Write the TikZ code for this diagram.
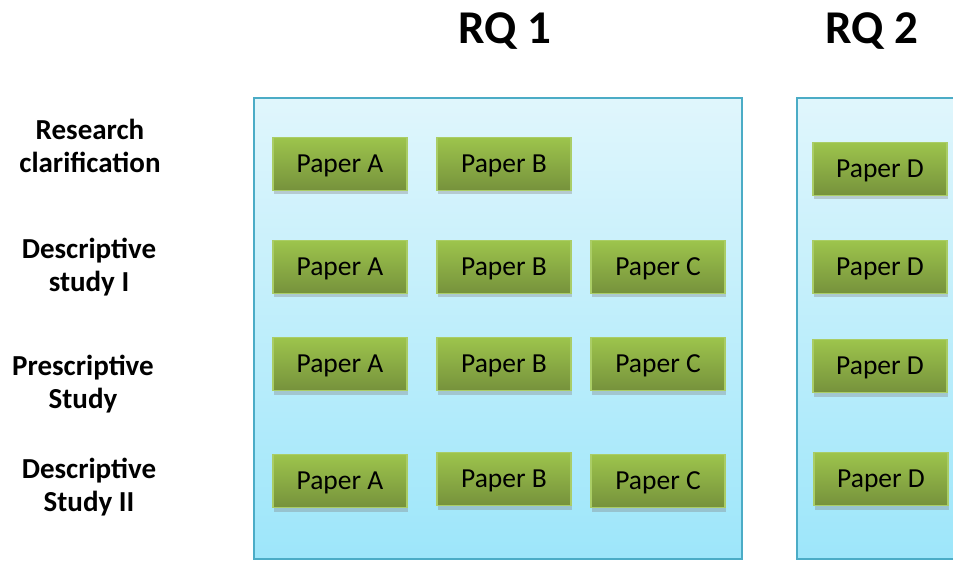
\documentclass[tikz,border=0pt]{standalone}
\usepackage{fontspec}
\setmainfont{Carlito}
\usetikzlibrary{shadows}
\definecolor{rqedge}{HTML}{4BACC6}
\definecolor{rqtop}{HTML}{E0F6FC}
\definecolor{rqbottom}{HTML}{9DE6FA}
\definecolor{papertop}{HTML}{9DC44C}
\definecolor{paperbottom}{HTML}{76923C}
\definecolor{paperedge}{HTML}{AACD66}

\begin{document}
\begin{tikzpicture}[x=1pt, y=-1pt,
  rqbox/.style={draw=rqedge, line width=1.5pt, top color=rqtop, bottom color=rqbottom},
  paper/.style={draw=paperedge, line width=1.2pt, top color=papertop, bottom color=paperbottom,
    minimum width=134pt, minimum height=53pt, inner sep=0pt, text depth=0pt,
    font=\fontsize{27.5}{30}\selectfont,
    drop shadow={opacity=0.35, shadow xshift=1pt, shadow yshift=-4pt}},
  phase/.style={align=center, font=\fontsize{29}{33}\selectfont\bfseries},
  rqtitle/.style={font=\fontsize{47}{50}\selectfont\bfseries}]
  \useasboundingbox (0,0) rectangle (953,561);
  \fill[white] (0,0) rectangle (953,561);
  % research questions
  \node[rqtitle] (rq1) at (505,31) {RQ 1};
  \node[rqtitle] (rq2) at (872,31) {RQ 2};
  \draw[rqbox] (254,98) rectangle (742,559);
  \draw[rqbox] (797,98) rectangle (965,559);
  % phases
  \node[phase] (clar) at (90,146) {Research\\clarification};
  \node[phase] (ds1) at (89,267) {Descriptive\\study I};
  \node[phase] (ps) at (83,384) {Prescriptive\\Study};
  \node[phase] (ds2) at (89,487) {Descriptive\\Study II};
  % papers
  \node[paper] (clarA) at (340,164) {Paper A};
  \node[paper] (clarB) at (504,164) {Paper B};
  \node[paper] (clarD) at (880,169) {Paper D};
  \node[paper] (ds1A) at (340,267) {Paper A};
  \node[paper] (ds1B) at (504,267) {Paper B};
  \node[paper] (ds1C) at (658,267) {Paper C};
  \node[paper] (ds1D) at (880,267) {Paper D};
  \node[paper] (psA) at (340,364) {Paper A};
  \node[paper] (psB) at (504,364) {Paper B};
  \node[paper] (psC) at (658,364) {Paper C};
  \node[paper] (psD) at (880,366) {Paper D};
  \node[paper] (ds2A) at (340,481) {Paper A};
  \node[paper] (ds2B) at (504,479) {Paper B};
  \node[paper] (ds2C) at (658,481) {Paper C};
  \node[paper] (ds2D) at (881,479) {Paper D};
\end{tikzpicture}
\end{document}
